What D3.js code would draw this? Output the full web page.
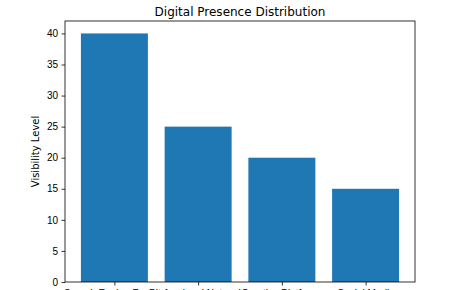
<!DOCTYPE html>
<html lang="en">
<head>
    <meta charset="UTF-8">
    <title>Digital Presence Distribution</title>
    <script src="https://d3js.org/d3.v7.min.js"></script>
    <style>
        body { margin: 0; background: #fff; }
        svg { display: block; font-family: "DejaVu Sans", sans-serif; }
        .tick text { font-size: 10px; fill: #000; }
    </style>
</head>
<body>
<svg width="465" height="290"></svg>
<script>
    // chart data
    const categories = ["Search Engine Results", "Professional Networks", "Creative Platforms", "Social Media"];
    const visibility = [40, 25, 20, 15];
    const yTicks = [0, 5, 10, 15, 20, 25, 30, 35, 40];

    const svg = d3.select("svg");
    const plotLeft = 65, plotRight = 415, plotTop = 21, plotBottom = 282;

    // matplotlib-style limits: bars of width 0.8 plus 5% margin
    const x = d3.scaleLinear().domain([-0.59, categories.length - 1 + 0.59]).range([plotLeft, plotRight]);
    const y = d3.scaleLinear().domain([0, 42]).range([plotBottom, plotTop]);
    const barW = x(0.8) - x(0);

    svg.selectAll("rect.bar")
        .data(visibility)
        .enter()
        .append("rect")
        .attr("class", "bar")
        .attr("x", (d, i) => x(i) - barW / 2)
        .attr("y", d => y(d))
        .attr("width", barW)
        .attr("height", d => y(0) - y(d))
        .attr("fill", "#1f77b4");

    // axes
    const yAxis = d3.axisLeft(y).tickValues(yTicks).tickSize(3.5).tickPadding(3.5);
    svg.append("g").attr("transform", `translate(${plotLeft},0)`).call(yAxis)
        .call(g => g.select(".domain").remove())
        .call(g => g.selectAll("line").attr("stroke", "#000").attr("stroke-width", 0.8));

    // the category labels run past the bottom edge, as in the original
    const xAxis = d3.axisBottom(x).tickValues(d3.range(categories.length))
        .tickFormat(i => categories[i]).tickSize(3.5).tickPadding(4.5);
    svg.append("g").attr("transform", `translate(0,${plotBottom})`).call(xAxis)
        .call(g => g.select(".domain").remove())
        .call(g => g.selectAll("line").attr("stroke", "#000").attr("stroke-width", 0.8));

    // spines
    svg.append("rect")
        .attr("x", plotLeft).attr("y", plotTop)
        .attr("width", plotRight - plotLeft).attr("height", plotBottom - plotTop)
        .attr("fill", "none").attr("stroke", "#000").attr("stroke-width", 0.8);

    svg.append("text")
        .attr("transform", `translate(39,${(plotTop + plotBottom) / 2}) rotate(-90)`)
        .attr("text-anchor", "middle")
        .attr("font-size", 10)
        .text("Visibility Level");

    svg.append("text")
        .attr("x", (plotLeft + plotRight) / 2)
        .attr("y", 16)
        .attr("text-anchor", "middle")
        .attr("font-size", 12)
        .text("Digital Presence Distribution");
</script>
</body>
</html>
